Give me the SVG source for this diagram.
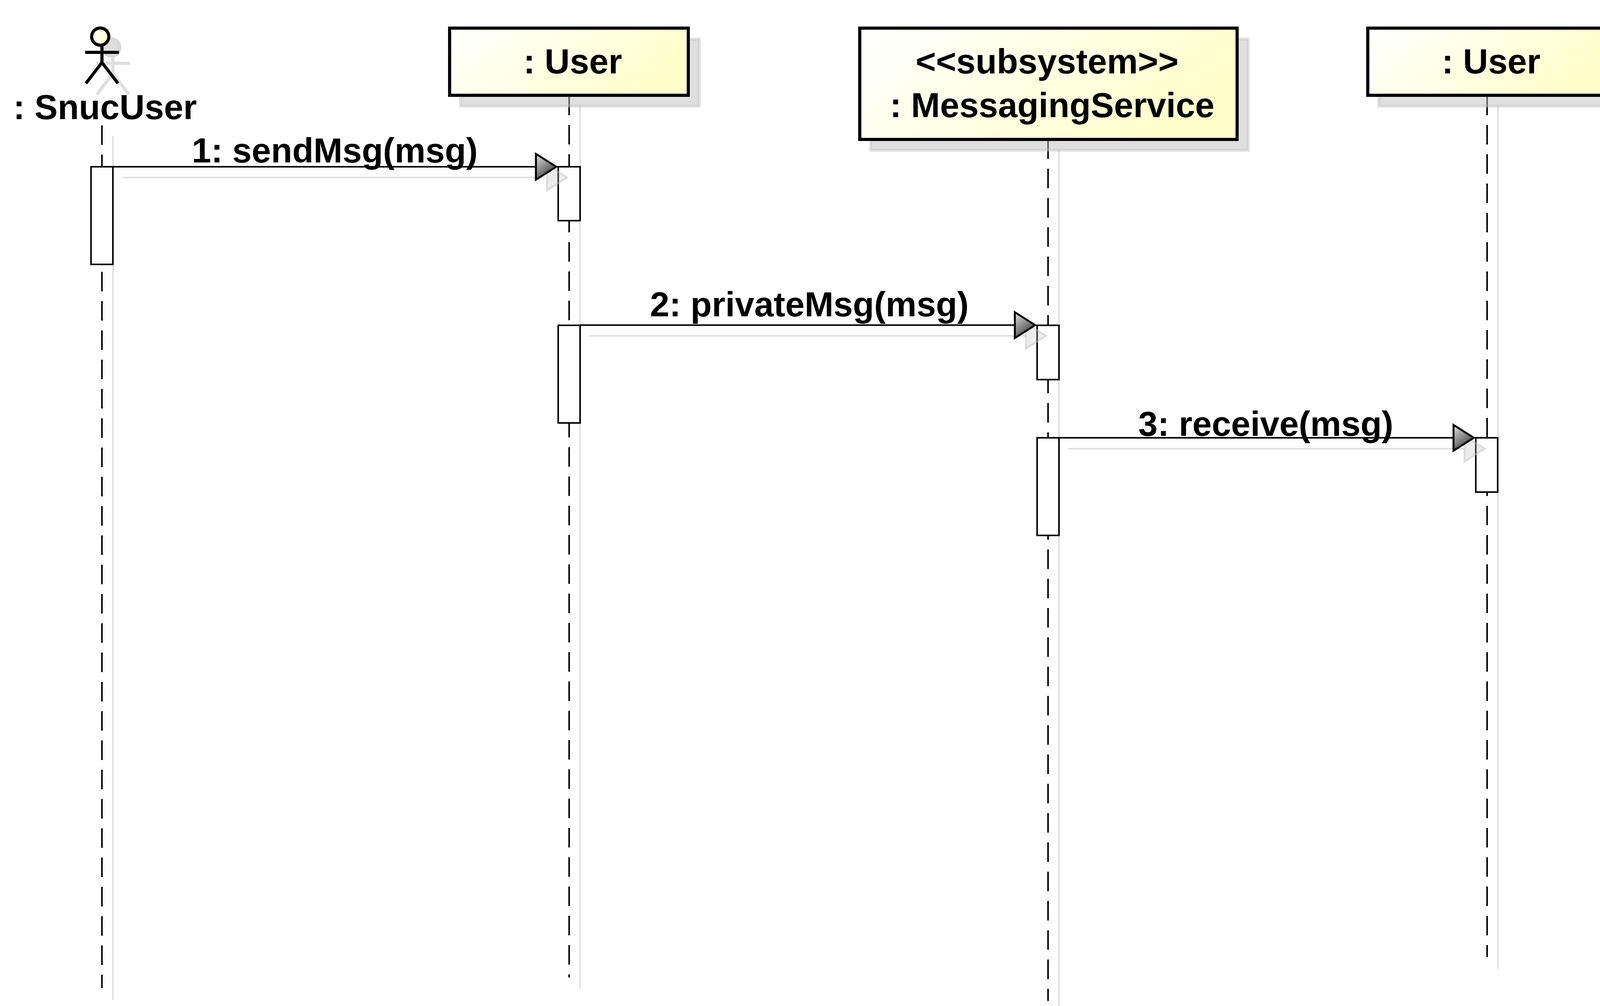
<svg xmlns="http://www.w3.org/2000/svg" width="4176" height="2576" viewBox="0 0 4176 2576" style="display:block">
<defs>
<linearGradient id="boxFill" x1="0" y1="0" x2="1" y2="0.35"><stop offset="0" stop-color="#ffffff"/><stop offset="1" stop-color="#ffffcc"/></linearGradient>
<linearGradient id="headFill" x1="0" y1="0" x2="1" y2="1"><stop offset="0" stop-color="#ffffff"/><stop offset="1" stop-color="#ffffcc"/></linearGradient>
<linearGradient id="arrowFill" x1="0" y1="0" x2="0.6" y2="1"><stop offset="0" stop-color="#e6e6e6"/><stop offset="1" stop-color="#3a3a3a"/></linearGradient>
<polygon id="head" points="-57,-33 -5,0 -57,33"/>
</defs>
<style>
.bg{fill:#ffffff}
.life{stroke:#000;stroke-width:4;stroke-dasharray:50 25;fill:none}
.lifeS{stroke:#bfbfbf;stroke-opacity:.5;stroke-width:4;fill:none}
.act{fill:#fff;stroke:#000;stroke-width:4}
.box{fill:url(#boxFill);stroke:#000;stroke-width:8}
.boxS{fill:#bfbfbf;fill-opacity:.5;stroke:#bfbfbf;stroke-opacity:.4;stroke-width:8}
.msg{stroke:#000;stroke-width:4;fill:none}
.msgS{stroke:#bfbfbf;stroke-opacity:.5;stroke-width:4;fill:none}
.arr{fill:url(#arrowFill);stroke:#000;stroke-width:5}
.arrS{fill:#bfbfbf;fill-opacity:.3;stroke:#bfbfbf;stroke-opacity:.45;stroke-width:5}
.t{font-family:"Liberation Sans",Arial,sans-serif;font-weight:700;font-size:89px;fill:#000}
.stick{stroke:#000;stroke-width:8;fill:none}
</style>
<rect class="bg" width="4176" height="2576"/>

<g id="node-snucuser">
  <line class="life" x1="261" y1="321" x2="261" y2="2530"/>
  <line class="lifeS" x1="289" y1="348" x2="289" y2="2560"/>
  <rect class="act" x="233" y="427" width="56" height="250"/>
  <g opacity=".5" transform="translate(28,28)">
    <circle cx="256.6" cy="93.7" r="22" fill="#bfbfbf" stroke="#b5b5b5" stroke-width="8"/>
    <path d="M261 119V160M218 134H304.6M220 213.5L261 160L302 213.5" fill="none" stroke="#bfbfbf" stroke-width="8"/>
  </g>
  <circle cx="256.6" cy="93.7" r="22" fill="url(#headFill)" stroke="#000" stroke-width="8"/>
  <path class="stick" d="M261 119V160M218 134H304.6M220 213.5L261 160L302 213.5"/>
  <text class="t" x="34" y="305">: SnucUser</text>
</g>

<g id="node-user1">
  <line class="life" x1="1457" y1="245" x2="1457" y2="2503"/>
  <line class="lifeS" x1="1485" y1="272" x2="1485" y2="2532"/>
  <rect class="act" x="1429" y="427" width="56" height="138"/>
  <rect class="act" x="1429" y="833" width="56" height="250"/>
  <rect class="boxS" x="1179" y="100" width="611" height="172"/>
  <rect class="box" x="1151" y="72" width="611" height="172"/>
  <text class="t" x="1340" y="188">: User</text>
</g>

<g id="node-messaging">
  <line class="life" x1="2683" y1="357" x2="2683" y2="2563"/>
  <line class="lifeS" x1="2711" y1="384" x2="2711" y2="2576"/>
  <rect class="act" x="2655" y="833" width="56" height="139"/>
  <rect class="act" x="2655" y="1121" width="56" height="250"/>
  <rect class="boxS" x="2229" y="100" width="966" height="285"/>
  <rect class="box" x="2201" y="72" width="966" height="285"/>
  <text class="t" x="2344" y="188">&lt;&lt;subsystem&gt;&gt;</text>
  <text class="t" x="2278" y="300">: MessagingService</text>
</g>

<g id="node-user2">
  <line class="life" x1="3807" y1="245" x2="3807" y2="2451"/>
  <line class="lifeS" x1="3835" y1="272" x2="3835" y2="2481"/>
  <rect class="act" x="3778" y="1121" width="56" height="139"/>
  <rect class="boxS" x="3529.500" y="100" width="611" height="172"/>
  <rect class="box" x="3501.500" y="72" width="611" height="172"/>
  <text class="t" x="3691" y="188">: User</text>
</g>

<g id="connectors">
  <g id="msg1">
    <line class="msgS" x1="313" y1="454.500" x2="1395" y2="454.500"/>
    <use href="#head" class="arrS" x="1457" y="454.500"/>
    <line class="msg" x1="289" y1="427" x2="1372" y2="427"/>
    <use href="#head" class="arr" x="1429" y="427"/>
    <text class="t" x="491" y="415.500">1: sendMsg(msg)</text>
  </g>
  <g id="msg2">
    <line class="msgS" x1="1509" y1="860" x2="2626" y2="860"/>
    <use href="#head" class="arrS" x="2683" y="860"/>
    <line class="msg" x1="1485" y1="832.500" x2="2598" y2="832.500"/>
    <use href="#head" class="arr" x="2655" y="832.500"/>
    <text class="t" x="1664" y="809.500">2: privateMsg(msg)</text>
  </g>
  <g id="msg3">
    <line class="msgS" x1="2735" y1="1149" x2="3749" y2="1149"/>
    <use href="#head" class="arrS" x="3806" y="1149"/>
    <line class="msg" x1="2711" y1="1121" x2="3721" y2="1121"/>
    <use href="#head" class="arr" x="3778" y="1121"/>
    <text class="t" x="2914" y="1115.500">3: receive(msg)</text>
  </g>
</g>
</svg>
